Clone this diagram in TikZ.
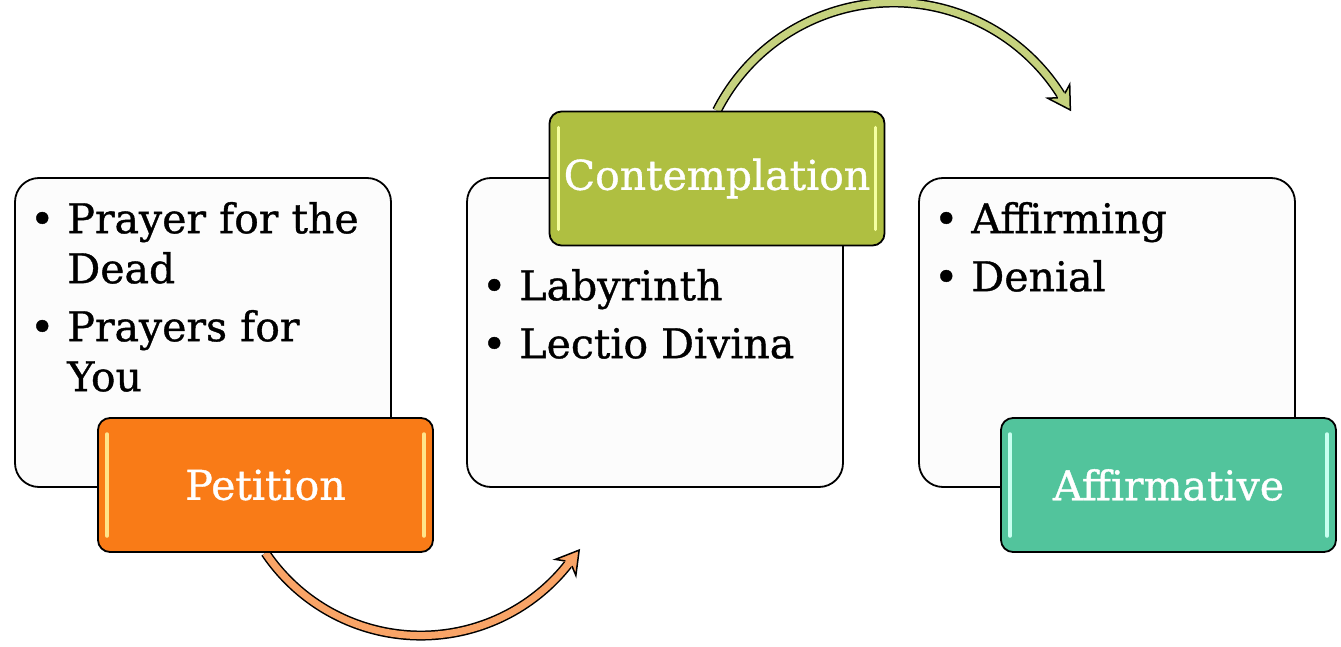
\documentclass[tikz,border=0pt]{standalone}
\usepackage{fontspec}
\setmainfont{DejaVu Serif}[BoldFont=DejaVu Serif, BoldFeatures={FakeBold=0.9}]
\usetikzlibrary{calc,decorations.markings,backgrounds}

\definecolor{listfill}{HTML}{FCFCFC}
\definecolor{petitionc}{HTML}{F97B17}
\definecolor{contemplc}{HTML}{AFBF41}
\definecolor{affirmc}{HTML}{52C49C}
\definecolor{petitionarr}{HTML}{F9A467}
\definecolor{contemplarr}{HTML}{C6D27E}
\definecolor{petitionglint}{HTML}{FFE38A}
\definecolor{contemplglint}{HTML}{F5FFA0}
\definecolor{affirmglint}{HTML}{C8FFF0}

\tikzset{
  listbox/.style={draw=black, line width=1.8pt, fill=listfill, rounded corners=24pt,
    minimum width=376pt, minimum height=309pt},
  listtext/.style={inner sep=0pt, font=\fontsize{41}{50}\selectfont\bfseries},
  tagbox/.style 2 args={draw=black, line width=1.8pt, fill=#1, rounded corners=12pt,
    minimum width=335pt, minimum height=134pt, inner sep=0pt, text=white,
    font=\fontsize{41}{50}\selectfont\bfseries,
    path picture={
      \draw[#2, line width=3.5pt, line cap=round]
        ([xshift=9pt,yshift=-16pt]path picture bounding box.north west) --
        ([xshift=9pt,yshift=16pt]path picture bounding box.south west);
      \draw[#2, line width=3.5pt, line cap=round]
        ([xshift=-9pt,yshift=-16pt]path picture bounding box.north east) --
        ([xshift=-9pt,yshift=16pt]path picture bounding box.south east);
    }},
  band/.style={double=#1, double distance=7pt, line width=1.5pt},
  headmark/.style={decorate, decoration={markings, mark=at position 1 with {
      \fill[#1] (-1,3.6) -- (-5,13) -- (17,0) -- (-5,-13) -- (-1,-3.6) -- cycle;
      \draw[line width=1.5pt] (0,4.2) -- (-5,13) -- (17,0) -- (-5,-13) -- (0,-4.2);
    }}}
}

\begin{document}
\begin{tikzpicture}[x=1pt, y=-1pt]
  \useasboundingbox (0,0) rectangle (1341,647);

  % white frames
  \node[listbox] (petition frame) at (203,332.5) {};
  \node[listbox] (contempl frame) at (655,332.5) {};
  \node[listbox] (affirm frame) at (1107,332.5) {};

  % bullet lists
  \node[listtext, anchor=north west] (petition items) at (30,198) {%
    \begin{tabular}{@{}l@{\hspace{13pt}}l@{}}
      \textbullet & Prayer for the\\
                  & Dead\\[8pt]
      \textbullet & Prayers for\\
                  & You
    \end{tabular}};
  \node[listtext, anchor=north west] (contempl items) at (482,265) {%
    \begin{tabular}{@{}l@{\hspace{13pt}}l@{}}
      \textbullet & Labyrinth\\[8pt]
      \textbullet & Lectio Divina
    \end{tabular}};
  \node[listtext, anchor=north west] (affirm items) at (934,198) {%
    \begin{tabular}{@{}l@{\hspace{13pt}}l@{}}
      \textbullet & Affirming\\[8pt]
      \textbullet & Denial
    \end{tabular}};

  % coloured labels
  \node[tagbox={petitionc}{petitionglint}] (petition) at (265.5,485) {Petition};
  \node[tagbox={contemplc}{contemplglint}] (contemplation) at (717,178.5) {Contemplation};
  \node[tagbox={affirmc}{affirmglint}] (affirmative) at (1168.5,485) {Affirmative};

  % curved arrows behind the labels
  \begin{pgfonlayer}{background}
    \draw[band=petitionarr] (petition.south) arc[start angle=146, end angle=38, radius=187.5];
    \path[headmark=petitionarr] (petition.south) arc[start angle=146, end angle=38, radius=187.5];
    \draw[band=contemplarr] (contemplation.north) arc[start angle=207, end angle=328, radius=198];
    \path[headmark=contemplarr] (contemplation.north) arc[start angle=207, end angle=328, radius=198];
  \end{pgfonlayer}
\end{tikzpicture}
\end{document}
